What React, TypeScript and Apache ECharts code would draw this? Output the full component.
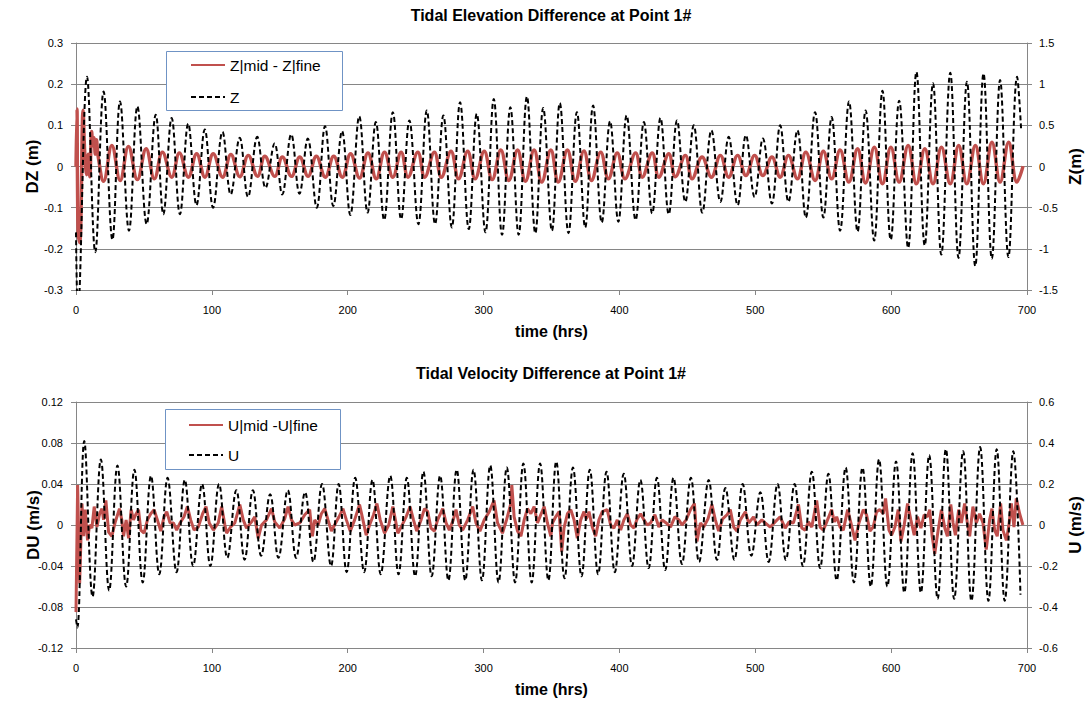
import React, { useEffect, useRef } from "react";
import * as echarts from "echarts";

// ---------- data (time in hrs, value) ----------
const timeTicks = [0, 100, 200, 300, 400, 500, 600, 700];

const dzSeries: number[][] = [
  [0, 0], [0.7, 0.14], [1.5, -0.16], [2.8, -0.185], [5.2, 0.137], [6.5, 0.03], [7.8, -0.02], [9, 0.03],
  [10.2, -0.025], [11.5, 0.085], [12.5, 0.05], [13.2, 0.07], [14.2, 0.03], [15, 0.065], [16.5, 0.02],
  [20.3, -0.036], [26.4, 0.051], [32.5, -0.034], [38.6, 0.049], [45.2, -0.032], [51.6, 0.043], [57.7, -0.03],
  [63.6, 0.035], [70.5, -0.026], [76.1, 0.033], [82.7, -0.026], [88.8, 0.031], [94.9, -0.026], [101, 0.031],
  [107.9, -0.026], [114, 0.029], [120.6, -0.025], [126.8, 0.027], [133.6, -0.024], [139, 0.025], [146.3, -0.024],
  [151.9, 0.023], [158.6, -0.024], [164.7, 0.023], [170.8, -0.024], [176.9, 0.025], [183.5, -0.026], [189.7, 0.025],
  [196, -0.026], [202.1, 0.031], [208.7, -0.028], [214.9, 0.033], [221, -0.03], [227.1, 0.035], [233.2, -0.026],
  [239.3, 0.035], [244.4, -0.026], [251.6, 0.035], [256.7, -0.026], [263.8, 0.035], [268.9, -0.026], [276, 0.037],
  [281.6, -0.03], [288.3, 0.037], [293.8, -0.03], [300.5, 0.037], [306.3, -0.032], [312.7, 0.04], [318.6, -0.034],
  [325, 0.04], [330.8, -0.036], [337.2, 0.04], [342.8, -0.038], [349.5, 0.04], [355, -0.038], [361.7, 0.04],
  [367.5, -0.036], [373.9, 0.038], [379.4, -0.034], [386.2, 0.035], [391.9, -0.03], [398.4, 0.033], [404.1, -0.03],
  [411.9, 0.033], [416.8, -0.026], [424.1, 0.033], [429, -0.026], [436.3, 0.031], [441.2, -0.025], [448.5, 0.027],
  [453.5, -0.03], [460.8, 0.023], [467.7, -0.026], [474.3, 0.027], [480.4, -0.026], [487, 0.027], [493.1, -0.022],
  [499.5, 0.027], [505.6, -0.022], [512.2, 0.023], [518.3, -0.026], [524.4, 0.027], [531, -0.03], [537.2, 0.035],
  [544, -0.034], [550.1, 0.037], [556.2, -0.03], [562.4, 0.04], [568.9, -0.038], [575.3, 0.043], [581.1, -0.04],
  [587.6, 0.047], [593.6, -0.042], [599.8, 0.047], [605.9, -0.038], [612.5, 0.051], [618.6, -0.042], [624.8, 0.043],
  [630.8, -0.042], [637, 0.047], [643.5, -0.042], [649.7, 0.051], [655.7, -0.042], [662, 0.051], [667.9, -0.042],
  [674.2, 0.059], [680.2, -0.038], [686.5, 0.059], [692.6, -0.038], [697.1, 0.001],
];

const zSeries: number[][] = [
  [0, -0.8], [1.4, -1.75], [8.1, 1.09], [14.2, -1.04], [20.3, 0.91], [26.8, -0.89], [32.4, 0.79], [39, -0.78],
  [45.2, 0.73], [52, -0.7], [58.7, 0.63], [64.3, -0.58], [70.4, 0.59], [76.5, -0.58], [82.6, 0.52], [88.7, -0.47],
  [94.8, 0.45], [100.9, -0.5], [107.8, 0.42], [113.9, -0.34], [120.5, 0.35], [126.6, -0.37], [133.4, 0.36],
  [139.5, -0.26], [146.2, 0.28], [151.8, -0.34], [158.4, 0.39], [164.5, -0.33], [170.6, 0.34], [177.2, -0.5],
  [183.3, 0.49], [189.4, -0.48], [195.8, 0.43], [201.9, -0.59], [208.5, 0.61], [214.6, -0.56], [220.7, 0.54],
  [226.8, -0.65], [233.2, 0.66], [239.3, -0.64], [245.4, 0.56], [252, -0.7], [258.2, 0.68], [264.3, -0.7],
  [270.4, 0.62], [276.6, -0.74], [282.7, 0.78], [289.1, -0.76], [295, 0.64], [301.4, -0.8], [307.5, 0.82],
  [313.6, -0.83], [319.7, 0.72], [325.8, -0.83], [331.9, 0.85], [338.1, -0.81], [343.9, 0.71], [350.3, -0.78],
  [356.1, 0.77], [362.5, -0.81], [368.7, 0.66], [374.8, -0.74], [380.6, 0.74], [387, -0.68], [393.1, 0.55],
  [399.2, -0.67], [405.3, 0.62], [411.9, -0.65], [418, 0.54], [424.1, -0.57], [430.2, 0.59], [436.3, -0.58],
  [442.4, 0.56], [448.5, -0.43], [454.7, 0.5], [461, -0.56], [467.7, 0.44], [474.3, -0.43], [480.4, 0.36],
  [487, -0.47], [493.1, 0.38], [499.5, -0.37], [505.6, 0.34], [512.2, -0.45], [518.3, 0.5], [524.4, -0.43],
  [531, 0.44], [537.2, -0.62], [544, 0.66], [550.1, -0.62], [556.2, 0.6], [562.4, -0.78], [569, 0.79],
  [575.3, -0.79], [581.2, 0.68], [587.5, -0.9], [593.6, 0.92], [599.7, -0.89], [605.9, 0.8], [612.5, -0.99],
  [618.6, 1.15], [624.7, -0.96], [630.8, 1.01], [636.9, -1.07], [643.5, 1.14], [649.6, -1.11], [655.8, 1.03],
  [661.9, -1.21], [668, 1.13], [674.1, -1.12], [680.2, 1.05], [686.3, -1.1], [692.7, 1.09], [695.7, 0.44],
];

const duSeries: number[][] = [
  [0, -0.085], [1.2, 0.039], [2.7, -0.057], [4.4, 0.021], [5.6, -0.011], [6.8, 0.015], [8.5, -0.015], [10, 0],
  [11.7, -0.003], [13.4, 0.018], [15.4, -0.002], [17.4, 0.011], [19.1, 0.016], [20.3, 0.005], [22, 0.024],
  [24, -0.007], [26.4, -0.011], [28.9, 0.003], [32, 0.016], [33.7, 0.005], [35, -0.011], [36.9, 0.005],
  [38.7, -0.013], [40.6, 0.015], [42.3, 0.005], [44.3, 0.011], [46, 0.015], [47.7, -0.005], [50.1, -0.008],
  [52.6, 0.005], [55, 0.011], [57.5, 0.015], [59.9, 0.005], [62.4, -0.006], [64.8, 0.008], [66.8, 0.013],
  [69.2, 0.002], [71.7, 0.002], [74.1, -0.005], [76.6, 0.002], [79.5, 0.008], [82, 0.018], [84.4, 0.005],
  [86.9, -0.005], [90, -0.002], [93.2, 0.011], [95.7, 0.018], [98.1, 0.002], [101.1, -0.005], [104.7, 0.002],
  [107.2, 0.018], [109.6, 0], [110.9, -0.008], [113.8, -0.002], [116.9, 0.002], [120.6, 0.02], [123.1, 0.005],
  [125.5, -0.003], [129.2, 0.003], [131.6, 0.008], [134.1, -0.013], [136.6, 0], [140.2, 0.005], [143.9, 0.016],
  [146.3, 0.003], [150, -0.003], [153.6, 0.006], [156.1, 0.018], [158.6, 0.005], [161, 0], [164.7, 0.002],
  [168.4, 0.01], [172, 0.015], [174, -0.011], [175.7, 0.005], [178.2, 0], [180.6, 0.011], [183.1, 0.016],
  [185.5, 0.005], [188, -0.006], [191.1, 0.002], [193.6, 0.008], [196.5, 0.016], [199, 0.005], [201.9, -0.006],
  [205.1, 0.005], [208.7, 0.02], [211.2, 0.005], [213.6, -0.01], [216.1, 0], [219, 0.01], [221.5, 0.021],
  [223.9, 0.005], [227.1, -0.008], [230.2, 0], [233.2, 0.018], [235.1, 0.005], [236.9, -0.008], [239.3, -0.002],
  [243, 0.008], [245.9, 0.018], [248.4, 0.005], [250.8, -0.006], [254, 0.005], [256.5, 0.016], [258.9, 0.013],
  [261.3, -0.003], [263.8, -0.006], [266.2, 0.005], [269.9, 0.016], [272.4, 0.002], [274.8, -0.005],
  [277.7, 0.005], [279.7, 0.015], [282.1, 0], [284.6, -0.005], [288.3, 0.005], [292, 0.018], [294.4, 0.002],
  [297.3, -0.006], [300.5, 0.005], [304.2, 0.013], [307.7, 0.024], [310.3, 0.002], [313.9, -0.008],
  [316.9, 0.005], [320.1, 0.021], [320.8, 0.039], [322.5, 0.008], [325, -0.006], [327.5, -0.011], [329.9, 0.005],
  [332.3, 0.016], [334.8, 0.011], [337.2, 0.018], [339.7, 0.002], [342.1, 0.01], [344.6, 0.018], [347, 0.002],
  [349.5, -0.011], [350.7, 0.002], [353.1, 0.008], [355.6, 0.013], [357.5, -0.026], [359.2, -0.003],
  [361.7, 0.011], [364.2, 0.015], [366.6, 0.005], [369, -0.013], [371.5, 0.005], [373.9, 0.013], [375.6, 0.006],
  [377.6, 0.013], [380, -0.002], [382.5, -0.011], [384.9, 0.005], [387.4, 0.013], [391, 0.015], [393.5, 0],
  [395.9, -0.003], [398.4, 0.005], [400.9, -0.005], [403.3, 0.005], [405.8, 0.011], [408.2, 0], [410.7, -0.003],
  [413.1, 0.006], [415.6, 0.011], [418, 0.005], [420.5, 0], [422.9, 0.002], [426.1, 0.01], [429, -0.002],
  [431.5, 0.005], [434.4, 0.002], [437.6, -0.002], [440.8, 0.008], [443.7, 0.005], [446.1, 0], [449.1, 0.005],
  [452.3, 0.015], [455.2, 0.021], [457.1, -0.016], [459.6, 0.002], [462, -0.002], [465.2, 0.006], [468.1, 0.02],
  [470.6, 0.005], [473, -0.006], [476, 0.006], [479.2, 0.01], [481.6, 0.015], [484.1, -0.002], [486.5, -0.006],
  [489, 0.005], [492.7, 0.013], [495.1, 0.002], [497, 0.005], [498.7, 0.008], [501.2, 0], [504.8, 0.005],
  [507.3, 0.002], [511, -0.002], [514.6, 0.003], [518.3, 0.008], [522, -0.003], [524.9, 0.003], [528.1, 0.002],
  [531.8, 0.02], [534.2, -0.003], [536.7, -0.005], [539.1, 0.003], [541.6, -0.002], [545.2, 0.024],
  [547.7, -0.002], [550.1, -0.005], [552.6, 0.003], [556.2, 0.015], [558.2, 0.003], [559.9, 0.008],
  [562.4, -0.002], [564.8, -0.005], [568, 0.015], [570.4, 0.002], [573.4, -0.015], [576.3, 0.002], [579.5, 0.015],
  [581.9, 0.01], [584.4, -0.006], [586.8, -0.002], [589.3, 0.013], [591.7, 0.015], [594.2, 0.011], [595.9, 0.026],
  [598.4, -0.005], [600.3, -0.01], [602.8, -0.002], [605.2, 0.015], [607.2, -0.016], [609.6, 0], [612.1, 0.021],
  [614.5, 0.005], [617, -0.01], [619.4, 0.008], [621.9, -0.003], [624.3, 0.01], [626.7, 0.008], [628.4, 0.015],
  [630.2, -0.011], [632.1, -0.028], [634.6, -0.005], [637, 0.015], [639.5, -0.003], [641.4, -0.011],
  [643.9, 0.02], [645.6, 0.002], [647.3, -0.01], [649.7, 0.015], [651.7, 0.002], [654.1, 0.021], [656.1, 0.002],
  [657.8, -0.011], [660.2, 0.018], [662.7, 0.002], [665.1, 0.011], [667.6, 0.002], [670, -0.024], [672.5, 0.005],
  [674.2, 0.016], [676.2, -0.005], [678.1, -0.011], [680.6, 0.021], [682.3, -0.005], [684.8, -0.015],
  [686.5, -0.002], [688.5, 0.021], [690.4, -0.002], [692.1, 0.026], [694.6, 0.011], [697, 0],
];

const uSeries: number[][] = [
  [0, -0.46], [1, -0.5], [6.1, 0.41], [12.2, -0.35], [18.3, 0.32], [24.4, -0.32], [30.5, 0.29], [36.9, -0.3],
  [43, 0.27], [49.1, -0.28], [55.2, 0.24], [61.3, -0.24], [67.4, 0.23], [74, -0.23], [80.1, 0.22], [86.2, -0.2],
  [92.8, 0.2], [98.9, -0.2], [105.3, 0.2], [111.4, -0.16], [118, 0.17], [124.1, -0.17], [130.2, 0.17],
  [136.3, -0.15], [142.9, 0.15], [149, -0.16], [155.9, 0.17], [162, -0.16], [168.6, 0.16], [174.7, -0.18],
  [181.1, 0.2], [187.7, -0.2], [193.3, 0.2], [199.2, -0.23], [205.5, 0.23], [212.1, -0.23], [218.2, 0.22],
  [224.3, -0.24], [231.3, 0.24], [237.4, -0.24], [243.5, 0.23], [249.6, -0.25], [255.7, 0.26], [261.8, -0.25],
  [268, 0.24], [274.1, -0.27], [280.2, 0.27], [286.5, -0.27], [292.6, 0.27], [298.8, -0.27], [304.9, 0.29],
  [311, -0.28], [317.1, 0.28], [323.2, -0.28], [329.3, 0.3], [335.4, -0.28], [341.6, 0.3], [347.7, -0.27],
  [353.5, 0.31], [359.6, -0.26], [365.8, 0.28], [372.1, -0.25], [378.2, 0.27], [384.3, -0.24], [390.5, 0.26],
  [396.6, -0.23], [403.2, 0.25], [409.3, -0.2], [415.4, 0.22], [421.5, -0.21], [427.6, 0.23], [433.7, -0.22],
  [439.8, 0.23], [446, -0.19], [452.6, 0.23], [458.6, -0.18], [465.7, 0.22], [471.8, -0.17], [478, 0.18],
  [484.6, -0.17], [490.7, 0.2], [497.1, -0.15], [503.7, 0.16], [509.8, -0.18], [516.4, 0.2], [522.5, -0.17],
  [528.9, 0.2], [535, -0.2], [541.6, 0.26], [547.7, -0.21], [553.8, 0.25], [559.9, -0.27], [566.5, 0.28],
  [572.6, -0.28], [578.9, 0.28], [585, -0.3], [591.1, 0.32], [597.2, -0.3], [603.6, 0.31], [609.7, -0.33],
  [615.8, 0.35], [621.9, -0.33], [628, 0.34], [634.2, -0.36], [640.3, 0.37], [646.4, -0.36], [653, 0.36],
  [659.1, -0.37], [665.5, 0.38], [671.6, -0.37], [677.7, 0.37], [683.6, -0.37], [689.9, 0.36], [695.2, -0.34],
];

const titles = ["Tidal Elevation Difference at Point 1#", "Tidal Velocity Difference at Point 1#"];
const seriesNames = ["Z|mid - Z|fine", "Z", "U|mid -U|fine", "U"];
const axisNames = ["DZ (m)", "Z(m)", "DU (m/s)", "U (m/s)", "time (hrs)"];

const FONT = "Liberation Sans, Arial, sans-serif";
const RED = "#C0504D";
const GRID = "#868686";
const DASH = [5, 3];

function xAxisCfg(gi: number) {
  return {
    gridIndex: gi,
    type: "value",
    min: timeTicks[0],
    max: timeTicks[timeTicks.length - 1],
    interval: 100,
    name: axisNames[4],
    nameLocation: "middle",
    nameGap: 33,
    nameMoveOverlap: false,
    nameTextStyle: { fontFamily: FONT, fontWeight: "bold", fontSize: 16, color: "#000" },
    axisLine: { show: true, onZero: false, lineStyle: { color: GRID, width: 1 } },
    axisTick: { show: true, length: 5, lineStyle: { color: GRID } },
    axisLabel: { fontFamily: FONT, fontSize: 11, color: "#000", margin: 14 },
    splitLine: { show: false },
  };
}

function yAxisCfg(gi: number, right: boolean, min: number, max: number, interval: number, name: string, gap: number) {
  return {
    gridIndex: gi,
    type: "value",
    position: right ? "right" : "left",
    min,
    max,
    interval,
    name,
    nameLocation: "middle",
    nameRotate: 90,
    nameGap: gap,
    nameMoveOverlap: false,
    nameTextStyle: { fontFamily: FONT, fontWeight: "bold", fontSize: 17, color: "#000" },
    axisLine: { show: true, onZero: false, lineStyle: { color: GRID, width: 1 } },
    axisTick: { show: true, length: 5, lineStyle: { color: GRID } },
    axisLabel: { fontFamily: FONT, fontSize: 11, color: "#000", margin: right ? 12 : 13 },
    splitLine: { show: !right, lineStyle: { color: GRID, width: 1 } },
  };
}

function legendCfg(names: string[], left: number, top: number, gap: number) {
  return {
    data: names,
    orient: "vertical",
    left,
    top,
    z: 6,
    itemWidth: 34,
    itemHeight: 14,
    itemGap: gap,
    padding: 0,
    itemStyle: { opacity: 0 },
    textStyle: { fontFamily: FONT, fontSize: 15.5, color: "#000" },
  };
}

export default function App() {
  const ref = useRef<HTMLDivElement>(null);
  useEffect(() => {
    if (!ref.current) return;
    const chart = echarts.init(ref.current, null, { renderer: "svg" });
    const option: any = {
      animation: false,
      backgroundColor: "#fff",
      grid: [
        { left: 76, right: 63, top: 43, height: 247 },
        { left: 76, right: 63, top: 402, height: 246 },
      ],
      xAxis: [xAxisCfg(0), xAxisCfg(1)],
      yAxis: [
        yAxisCfg(0, false, -0.3, 0.3, 0.1, axisNames[0], 35),
        yAxisCfg(0, true, -1.5, 1.5, 0.5, axisNames[1], 40),
        yAxisCfg(1, false, -0.12, 0.12, 0.04, axisNames[2], 34),
        yAxisCfg(1, true, -0.6, 0.6, 0.2, axisNames[3], 40),
      ],
      legend: [
        legendCfg([seriesNames[0], seriesNames[1]], 190, 57, 16),
        legendCfg([seriesNames[2], seriesNames[3]], 188, 417, 14),
      ],
      graphic: [
        {
          type: "rect",
          z: 4,
          shape: { x: 166.5, y: 51.5, width: 176, height: 59 },
          style: { fill: "#fff", stroke: "#6f93c5", lineWidth: 1 },
        },
        {
          type: "rect",
          z: 4,
          shape: { x: 165.5, y: 409.5, width: 175, height: 60 },
          style: { fill: "#fff", stroke: "#6f93c5", lineWidth: 1 },
        },
        {
          type: "text",
          x: 551,
          y: 15,
          style: { text: titles[0], font: `bold 16px ${FONT}`, fill: "#000", align: "center", verticalAlign: "middle" },
        },
        {
          type: "text",
          x: 551,
          y: 373,
          style: { text: titles[1], font: `bold 16px ${FONT}`, fill: "#000", align: "center", verticalAlign: "middle" },
        },
      ],
      series: [
        {
          name: seriesNames[0],
          type: "line",
          xAxisIndex: 0,
          yAxisIndex: 0,
          data: dzSeries,
          symbol: "none",
          smooth: 0.4,
          z: 2,
          lineStyle: { color: RED, width: 3.4 },
          itemStyle: { color: RED },
        },
        {
          name: seriesNames[1],
          type: "line",
          xAxisIndex: 0,
          yAxisIndex: 1,
          data: zSeries,
          symbol: "none",
          smooth: 0.4,
          z: 3,
          lineStyle: { color: "#000", width: 2, type: DASH },
          itemStyle: { color: "#000" },
        },
        {
          name: seriesNames[2],
          type: "line",
          xAxisIndex: 1,
          yAxisIndex: 2,
          data: duSeries,
          symbol: "none",
          z: 2,
          lineStyle: { color: RED, width: 3 },
          itemStyle: { color: RED },
        },
        {
          name: seriesNames[3],
          type: "line",
          xAxisIndex: 1,
          yAxisIndex: 3,
          data: uSeries,
          symbol: "none",
          smooth: 0.4,
          z: 3,
          lineStyle: { color: "#000", width: 2, type: DASH },
          itemStyle: { color: "#000" },
        },
      ],
    };
    chart.setOption(option);
    return () => chart.dispose();
  }, []);
  return (
    <div
      ref={ref}
      style={{ position: "absolute", left: 0, top: 0, width: 1092, height: 701, background: "#fff" }}
    />
  );
}
